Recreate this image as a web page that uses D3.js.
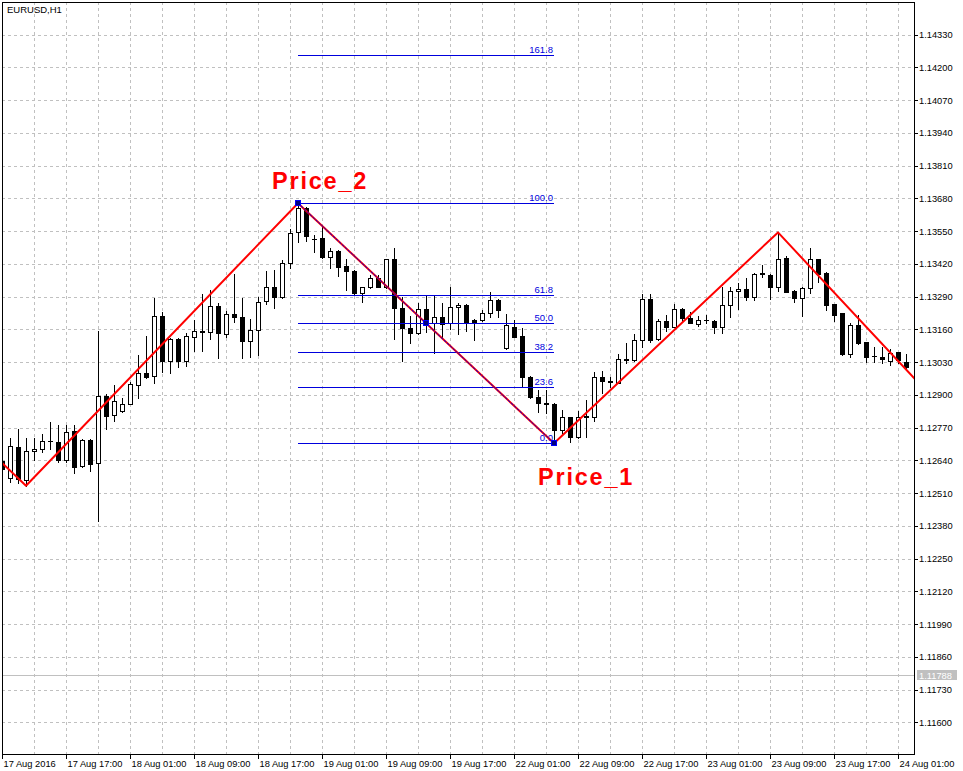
<!DOCTYPE html>
<html><head><meta charset="utf-8">
<script src="https://cdn.jsdelivr.net/npm/d3@7"></script>
<style>
body{margin:0;background:#fff}
svg{display:block}
text{font-family:"Liberation Sans",Arial,sans-serif}
</style>
</head><body>
<svg id="chart" width="963" height="771"></svg>
<script>
const chartTitle = "EURUSD,H1";
const opens = [1.12638,1.12570,1.12693,1.12562,1.12676,1.12684,1.12716,1.12712,1.12641,1.12755,1.12619,1.12720,1.12628,1.12895,1.12819,1.12835,1.12865,1.12938,1.12986,1.12976,1.13213,1.13033,1.13121,1.13036,1.13129,1.13148,1.13148,1.13252,1.13140,1.13221,1.13208,1.13113,1.13156,1.13272,1.13327,1.13287,1.13422,1.13548,1.13641,1.13520,1.13523,1.13449,1.13471,1.13412,1.13392,1.13306,1.13327,1.13365,1.13327,1.13438,1.13244,1.13164,1.13144,1.13240,1.13187,1.13208,1.13184,1.13248,1.13256,1.13197,1.13197,1.13224,1.13277,1.13085,1.13171,1.13134,1.12972,1.12890,1.12866,1.12864,1.12760,1.12811,1.12731,1.12813,1.12813,1.12970,1.12954,1.12948,1.13037,1.13037,1.13117,1.13281,1.13121,1.13193,1.13171,1.13241,1.13204,1.13181,1.13197,1.13193,1.13168,1.13256,1.13311,1.13319,1.13290,1.13380,1.13375,1.13327,1.13442,1.13312,1.13283,1.13323,1.13438,1.13385,1.13260,1.13224,1.13062,1.13177,1.13109,1.13054,1.13052,1.13036,1.13069,1.13029];
const highs = [1.12657,1.12727,1.12764,1.12727,1.12727,1.12743,1.12791,1.12780,1.12780,1.12780,1.12724,1.12724,1.13154,1.12903,1.12939,1.12886,1.12952,1.13057,1.13134,1.13283,1.13229,1.13126,1.13126,1.13146,1.13197,1.13302,1.13315,1.13264,1.13233,1.13380,1.13283,1.13200,1.13290,1.13393,1.13396,1.13436,1.13557,1.13661,1.13645,1.13535,1.13568,1.13482,1.13475,1.13438,1.13395,1.13330,1.13376,1.13376,1.13440,1.13482,1.13290,1.13212,1.13264,1.13293,1.13293,1.13266,1.13330,1.13266,1.13260,1.13200,1.13237,1.13307,1.13280,1.13221,1.13197,1.13167,1.12974,1.12919,1.12919,1.12867,1.12840,1.12814,1.12837,1.12880,1.12992,1.12996,1.12970,1.13062,1.13105,1.13142,1.13299,1.13299,1.13201,1.13217,1.13261,1.13244,1.13230,1.13213,1.13217,1.13196,1.13327,1.13327,1.13343,1.13363,1.13385,1.13416,1.13380,1.13545,1.13451,1.13315,1.13327,1.13482,1.13441,1.13389,1.13262,1.13226,1.13184,1.13217,1.13111,1.13091,1.13091,1.13081,1.13071,1.13062];
const lows = [1.12594,1.12553,1.12549,1.12539,1.12641,1.12674,1.12685,1.12632,1.12632,1.12589,1.12615,1.12599,1.12400,1.12764,1.12796,1.12833,1.12862,1.12889,1.12968,1.12946,1.12992,1.12988,1.13009,1.13016,1.13075,1.13075,1.13121,1.13048,1.13129,1.13188,1.13048,1.13052,1.13058,1.13260,1.13246,1.13285,1.13403,1.13506,1.13511,1.13468,1.13445,1.13405,1.13373,1.13316,1.13297,1.13270,1.13325,1.13328,1.13325,1.13121,1.13036,1.13107,1.13142,1.13148,1.13065,1.13131,1.13160,1.13142,1.13155,1.13118,1.13195,1.13210,1.13210,1.13083,1.13129,1.12935,1.12888,1.12833,1.12829,1.12708,1.12750,1.12714,1.12729,1.12731,1.12797,1.12906,1.12930,1.12946,1.13025,1.13035,1.13091,1.13111,1.13119,1.13155,1.13169,1.13194,1.13185,1.13175,1.13184,1.13144,1.13147,1.13210,1.13241,1.13277,1.13277,1.13369,1.13279,1.13314,1.13308,1.13270,1.13214,1.13303,1.13349,1.13237,1.13194,1.13060,1.13049,1.13102,1.13032,1.13032,1.13025,1.13019,1.13025,1.13005];
const closes = [1.12604,1.12696,1.12565,1.12676,1.12685,1.12716,1.12718,1.12641,1.12751,1.12615,1.12720,1.12624,1.12894,1.12817,1.12874,1.12865,1.12942,1.12986,1.12972,1.13212,1.13036,1.13121,1.13036,1.13133,1.13154,1.13153,1.13252,1.13144,1.13220,1.13210,1.13113,1.13156,1.13268,1.13327,1.13287,1.13422,1.13542,1.13641,1.13532,1.13517,1.13449,1.13471,1.13409,1.13393,1.13306,1.13327,1.13363,1.13330,1.13438,1.13244,1.13164,1.13144,1.13240,1.13180,1.13208,1.13181,1.13248,1.13256,1.13190,1.13190,1.13224,1.13277,1.13237,1.13177,1.13131,1.12972,1.12890,1.12866,1.12864,1.12760,1.12811,1.12731,1.12813,1.12815,1.12970,1.12956,1.12952,1.13041,1.13041,1.13117,1.13281,1.13118,1.13193,1.13171,1.13241,1.13204,1.13187,1.13197,1.13198,1.13168,1.13256,1.13311,1.13319,1.13290,1.13380,1.13382,1.13327,1.13438,1.13310,1.13283,1.13323,1.13438,1.13380,1.13257,1.13217,1.13062,1.13177,1.13107,1.13052,1.13056,1.13041,1.13067,1.13038,1.13012];
const timeTickIndex = [0,8,16,24,32,40,48,56,64,72,80,88,96,104,112];
const timeTickLabels = ["17 Aug 2016","17 Aug 17:00","18 Aug 01:00","18 Aug 09:00","18 Aug 17:00","19 Aug 01:00","19 Aug 09:00","19 Aug 17:00","22 Aug 01:00","22 Aug 09:00","22 Aug 17:00","23 Aug 01:00","23 Aug 09:00","23 Aug 17:00","24 Aug 01:00"];
const priceTicks = [1.11600,1.11730,1.11860,1.11990,1.12120,1.12250,1.12380,1.12510,1.12640,1.12770,1.12900,1.13030,1.13160,1.13290,1.13420,1.13550,1.13680,1.13810,1.13940,1.14070,1.14200,1.14330];
const zigzagIndex = [-0.25, 3, 37, 69, 97, 114.125];
const zigzagPrice = [1.12638, 1.12539, 1.13661, 1.12708, 1.13545, 1.12963];
const fibAnchorIndex = [69, 37];        // 0.0 anchor, 100.0 anchor
const fibAnchorPrice = [1.12708, 1.13661];
const fibLevels = [0, 23.6, 38.2, 50, 61.8, 100, 161.8];
const currentPrice = 1.11788;
const noteTexts = ["Price_2", "Price_1"];
const noteIndex = [33.75, 67];
const notePrice = [1.13716, 1.12542];

const W = 963, H = 771;
const L = 2, R = 914, T = 2, B = 754;
const svg = d3.select("#chart");
svg.append("rect").attr("width", W).attr("height", H).attr("fill", "#fff");

const x = d3.scaleLinear().domain([0, 114]).range([L, R]);
const y = d3.scaleLinear().domain([1.11474, 1.14460]).range([B, T]);
const px = v => Math.round(v) + 0.5;

const defs = svg.append("defs");
defs.append("clipPath").attr("id", "plot").append("rect")
  .attr("x", L).attr("y", T).attr("width", R - L).attr("height", B - T);

// grid
const grid = svg.append("g").attr("stroke", "#c0c0c0").attr("stroke-width", 1).attr("stroke-dasharray", "3,3");
grid.selectAll("line.h").data(priceTicks).join("line").attr("class", "h")
  .attr("x1", L).attr("x2", R).attr("y1", d => px(y(d))).attr("y2", d => px(y(d)));
const vGrid = d3.range(4, 114, 4);
grid.selectAll("line.v").data(vGrid).join("line").attr("class", "v")
  .attr("y1", T).attr("y2", B).attr("x1", d => px(x(d))).attr("x2", d => px(x(d)));

// current price line
svg.append("line").attr("x1", L).attr("x2", R)
  .attr("y1", px(y(currentPrice))).attr("y2", px(y(currentPrice)))
  .attr("stroke", "#c0c0c0");

const plot = svg.append("g").attr("clip-path", "url(#plot)");

// candles
const bars = d3.range(opens.length).map(i => ({i, o: opens[i], h: highs[i], l: lows[i], c: closes[i]}));
const cg = plot.append("g");
cg.selectAll("line.wick").data(bars).join("line").attr("class", "wick")
  .attr("x1", d => px(x(d.i))).attr("x2", d => px(x(d.i)))
  .attr("y1", d => Math.round(y(d.h))).attr("y2", d => Math.round(y(d.l)) + 1)
  .attr("stroke", "#000").attr("stroke-width", 1);
bars.forEach(d => {
  const cx = Math.round(x(d.i));
  const yt = Math.round(y(Math.max(d.o, d.c)));
  const yb = Math.round(y(Math.min(d.o, d.c)));
  if (yb - yt < 2) {
    cg.append("line").attr("x1", cx - 2).attr("x2", cx + 3)
      .attr("y1", yt + 0.5).attr("y2", yt + 0.5).attr("stroke", "#000");
    if (yb - yt >= 1) cg.append("line").attr("x1", cx - 2).attr("x2", cx + 3)
      .attr("y1", yb + 0.5).attr("y2", yb + 0.5).attr("stroke", "#000");
  } else {
    cg.append("rect").attr("x", cx - 1.5).attr("y", yt + 0.5)
      .attr("width", 4).attr("height", yb - yt)
      .attr("fill", d.c >= d.o ? "#fff" : "#000").attr("stroke", "#000");
  }
});

// fibonacci levels
const fibBlue = "#0000dd";
const fx1 = x(fibAnchorIndex[1]), fx2 = x(fibAnchorIndex[0]);
const fibPrice = lv => fibAnchorPrice[0] + (fibAnchorPrice[1] - fibAnchorPrice[0]) * lv / 100;
const fg = plot.append("g");
fg.selectAll("line").data(fibLevels).join("line")
  .attr("x1", fx1).attr("x2", fx2)
  .attr("y1", d => px(y(fibPrice(d)))).attr("y2", d => px(y(fibPrice(d))))
  .attr("stroke", fibBlue).attr("stroke-width", 1);
fg.selectAll("text").data(fibLevels).join("text")
  .attr("x", fx2 - 1).attr("y", d => Math.round(y(fibPrice(d))) - 2)
  .attr("text-anchor", "end").attr("font-size", 9.5).attr("fill", fibBlue)
  .text(d => d.toFixed(1));

// zigzag
const zz = zigzagIndex.map((d, k) => [x(d), y(zigzagPrice[k])]);
plot.append("path").attr("d", d3.line()(zz)).attr("fill", "none")
  .attr("stroke", "#ff0000").attr("stroke-width", 2).attr("stroke-linejoin", "round");

// fibonacci trend line (dotted over zigzag)
const tl = [[x(fibAnchorIndex[1]), y(fibAnchorPrice[1])], [x(fibAnchorIndex[0]), y(fibAnchorPrice[0])]];
plot.append("path").attr("d", d3.line()(tl)).attr("fill", "none")
  .attr("stroke", fibBlue).attr("stroke-width", 1).attr("stroke-dasharray", "3,1");
const handles = [tl[0], tl[1], [(tl[0][0] + tl[1][0]) / 2, (tl[0][1] + tl[1][1]) / 2]];
plot.selectAll("rect.handle").data(handles).join("rect").attr("class", "handle")
  .attr("x", d => Math.round(d[0]) - 2.5).attr("y", d => Math.round(d[1]) - 2.5)
  .attr("width", 5).attr("height", 5).attr("fill", "#000080").attr("stroke", "#0000ff");

// notes
svg.selectAll("text.note").data(noteTexts).join("text").attr("class", "note")
  .attr("x", (d, k) => x(noteIndex[k])).attr("y", (d, k) => y(notePrice[k]))
  .style("font-family", "'Liberation Sans', Arial, sans-serif").style("font-weight", "bold")
  .style("font-size", "23.5px").style("letter-spacing", "1.8px").attr("fill", "#ff0000").text(d => d);

// frame
svg.append("rect").attr("x", L + 0.5).attr("y", T + 0.5).attr("width", R - L).attr("height", B - T)
  .attr("fill", "none").attr("stroke", "#000");

// y axis (right)
const ya = svg.append("g");
ya.selectAll("line").data(priceTicks).join("line")
  .attr("x1", R).attr("x2", R + 4).attr("y1", d => px(y(d))).attr("y2", d => px(y(d)))
  .attr("stroke", "#000");
ya.selectAll("text").data(priceTicks).join("text")
  .attr("x", R + 5).attr("y", d => y(d) + 3.5).attr("font-size", 9.3).attr("fill", "#000")
  .text(d => d.toFixed(5));

// current price tag
const cpy = Math.round(y(currentPrice));
svg.append("rect").attr("x", R + 3).attr("y", cpy - 5).attr("width", 40).attr("height", 10).attr("fill", "#c0c0c0");
svg.append("text").attr("x", R + 5).attr("y", cpy + 3.5).attr("font-size", 9.3).attr("fill", "#fff")
  .text(currentPrice.toFixed(5));

// x axis (bottom)
const xa = svg.append("g");
xa.selectAll("line").data(timeTickIndex).join("line")
  .attr("x1", d => px(x(d))).attr("x2", d => px(x(d))).attr("y1", B).attr("y2", B + 5)
  .attr("stroke", "#000");
xa.selectAll("text").data(timeTickIndex).join("text")
  .attr("x", d => x(d) + 1.5).attr("y", B + 13).attr("font-size", 9.3).attr("fill", "#000")
  .text((d, k) => timeTickLabels[k]);

// title
svg.append("text").attr("x", 7).attr("y", 13).attr("font-size", 9.5).attr("fill", "#000").text(chartTitle);
</script>
</body></html>
